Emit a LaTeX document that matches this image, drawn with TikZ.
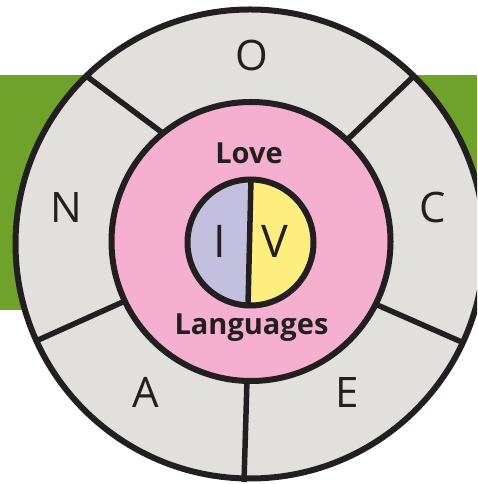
\documentclass[tikz,border=0pt]{standalone}
\usepackage{fontspec}
\setmainfont{Open Sans}
\definecolor{ink}{HTML}{231F20}
\definecolor{ringgray}{HTML}{E1E0DC}
\definecolor{pinkfill}{HTML}{F5AFCF}
\definecolor{lavfill}{HTML}{C3BFDF}
\definecolor{yelfill}{HTML}{FEEE80}
\definecolor{leafgreen}{HTML}{6FA22A}
\begin{document}
\begin{tikzpicture}[x=1pt,y=1pt,
  stroke/.style={draw=ink,line width=6pt},
  spoke/.style={draw=ink,line width=5.5pt},
  letter/.style={anchor=base,inner sep=0pt,text=ink,font=\fontsize{42}{42}\selectfont},
  midletter/.style={anchor=base,inner sep=0pt,text=ink,font=\fontsize{45}{45}\selectfont},
  title/.style={anchor=base,inner sep=0pt,text=ink,font=\bfseries\fontsize{29}{29}\selectfont}]
\useasboundingbox (0,0) rectangle (477,484);
\clip (0,0) rectangle (477,484);
% green band
\fill[leafgreen] (0,174) rectangle (477,409);
% outer ring
\coordinate (oc) at (250,240);
\fill[ringgray] (oc) circle[radius=234.5];
% spokes
\coordinate (s1a) at (85,409); \coordinate (s1b) at (164,350);
\coordinate (s2a) at (415,409); \coordinate (s2b) at (348,345);
\coordinate (s3a) at (36,143); \coordinate (s3b) at (125,183);
\coordinate (s4a) at (464,141); \coordinate (s4b) at (375,180);
\coordinate (s5a) at (244,2); \coordinate (s5b) at (247,104);
\draw[spoke] (s1a) -- (s1b);
\draw[spoke] (s2a) -- (s2b);
\draw[spoke] (s3a) -- (s3b);
\draw[spoke] (s4a) -- (s4b);
\draw[spoke] (s5a) -- (s5b);
\draw[stroke] (oc) circle[radius=234.5];
% pink circle
\coordinate (pc) at (251,242.5);
\draw[stroke,fill=pinkfill] (pc) circle[radius=139.5];
% inner split circle
\coordinate (ic) at (250.5,241.5);
\fill[yelfill] (ic) circle[radius=63];
\fill[lavfill] (ic) ++(90:63) arc[start angle=90,end angle=270,radius=63] -- cycle;
\coordinate (dtop) at (251,305);
\coordinate (dbot) at (248,178);
\draw[spoke] (dtop) -- (dbot);
\draw[stroke] (ic) circle[radius=63];
% letters
\node[letter] (o) at (252,413) {O};
\node[letter] (n) at (66,261) {N};
\node[letter] (c) at (433,261) {C};
\node[letter] (a) at (146,76) {A};
\node[letter] (e) at (347,76) {E};
\node[midletter] (i) at (219.5,226) {I};
\node[midletter] (v) at (275,226) {V};
\node[title] (love) at (249,320) {Love};
\node[title] (lang) at (251.5,149) {Languages};
\end{tikzpicture}
\end{document}
